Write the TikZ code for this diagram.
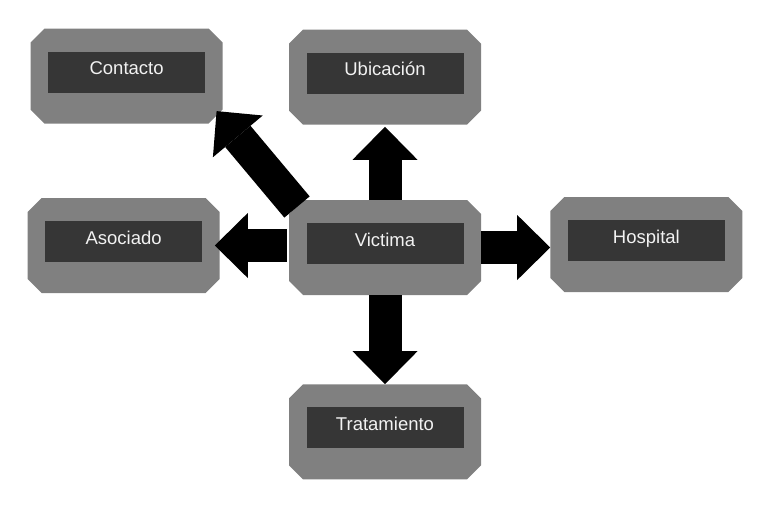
\documentclass[tikz,border=0pt]{standalone}
\usepackage{fontspec}
\setmainfont{Liberation Sans}
\usetikzlibrary{arrows.meta, positioning, calc}

\definecolor{cajagris}{HTML}{808080}
\definecolor{cajaosc}{HTML}{363636}
\definecolor{textoclaro}{HTML}{F2F2F2}

\tikzset{
    caja/.style={rectangle, draw=none, inner sep=0pt,
        minimum width=192pt, minimum height=95pt,
        path picture={
            \fill[cajagris]
                ([xshift=14pt]path picture bounding box.north west)
                -- ([xshift=-14pt]path picture bounding box.north east)
                -- ([yshift=-14pt]path picture bounding box.north east)
                -- ([yshift=14pt]path picture bounding box.south east)
                -- ([xshift=-14pt]path picture bounding box.south east)
                -- ([xshift=14pt]path picture bounding box.south west)
                -- ([yshift=14pt]path picture bounding box.south west)
                -- ([yshift=-14pt]path picture bounding box.north west)
                -- cycle;
        }},
    etiqueta/.style={rectangle, fill=cajaosc, text=textoclaro,
        minimum width=157pt, minimum height=41pt, inner sep=0pt,
        text height=13pt, text depth=8pt,
        font=\fontsize{18.5}{22}\selectfont},
    flecha/.style={line width=33pt,
        -{Triangle[length=33pt, width=65pt, line width=0pt]}}
}

\begin{document}
\begin{tikzpicture}
\useasboundingbox (0pt,0pt) rectangle (777pt,-522pt);

\node[caja] (victima) at (385pt,-247.5pt) {};
\node[caja] (ubicacion) [above=75pt of victima] {};
\node[caja] (tratamiento) [below=89pt of victima] {};
\node[caja] (asociado) [left=69pt of victima, yshift=2pt] {};
\node[caja] (hospital) [right=69pt of victima, yshift=3pt] {};
\node[caja] (contacto) [above=74pt of asociado, xshift=3pt] {};

% textos
\node[etiqueta] (victima-t) at ([yshift=4pt]victima.center) {Victima};
\node[etiqueta] (ubicacion-t) at ([yshift=4pt]ubicacion.center) {Ubicación};
\node[etiqueta] (tratamiento-t) at ([yshift=4pt]tratamiento.center) {Tratamiento};
\node[etiqueta] (asociado-t) at ([yshift=4pt]asociado.center) {Asociado};
\node[etiqueta] (hospital-t) at ([yshift=4pt]hospital.center) {Hospital};
\node[etiqueta] (contacto-t) at ([yshift=4pt]contacto.center) {Contacto};

% flechas
\draw[flecha] (victima.north) -- ([yshift=-2pt]ubicacion.south);
\draw[flecha] (victima.south) -- (tratamiento.north);
\draw[flecha] ([xshift=-2pt]victima.west |- asociado.east) -- ([xshift=-5pt]asociado.east);
\draw[flecha] (victima.east) -- (hospital.west |- victima.east);
\draw[flecha] ($(victima.center)+(-88pt,40.5pt)$) -- ($(contacto.center)+(90pt,-35pt)$);

\end{tikzpicture}
\end{document}
